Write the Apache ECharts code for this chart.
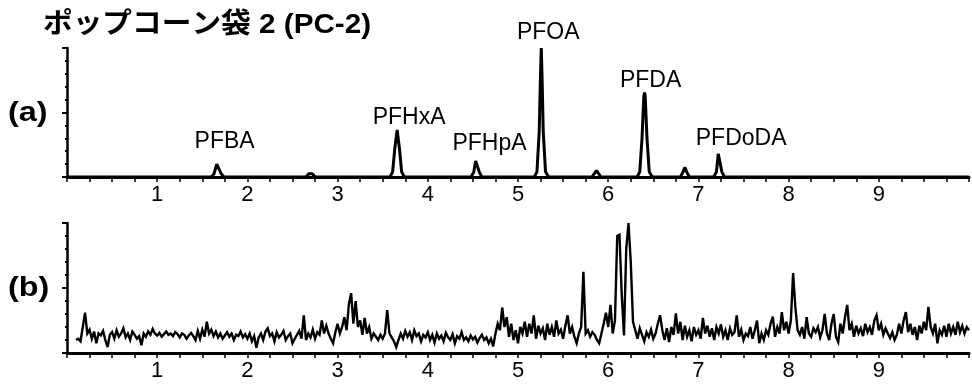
<!DOCTYPE html>
<html>
<head>
<meta charset="utf-8">
<script src="https://cdn.jsdelivr.net/npm/echarts@6/dist/echarts.min.js"></script>
<style>
html,body{margin:0;padding:0;background:#fff;}
#chart{width:972px;height:390px;}
</style>
</head>
<body>
<div id="chart"></div>
<script>
// ---- Text ----
const titleText = 'ポップコーン袋 2 (PC-2)';
const panelLabels = ['(a)', '(b)'];
const xTickValues = [1, 2, 3, 4, 5, 6, 7, 8, 9];

// ---- Panel (a): standard chromatogram (time, intensity) ----
const aTimes = [0.00,
  1.60,1.63,1.66,1.67,1.68,1.71,1.74,
  2.65,2.68,2.70,2.72,2.75,
  3.58,3.61,3.635,3.66,3.685,3.71,3.74,
  4.48,4.51,4.53,4.54,4.55,4.57,4.60,
  5.18,5.21,5.235,5.25,5.258,5.266,5.28,5.305,5.34,
  5.82,5.85,5.87,5.89,5.92,
  6.32,6.35,6.375,6.395,6.403,6.41,6.43,6.455,6.49,
  6.80,6.83,6.85,6.87,6.90,
  7.17,7.20,7.22,7.23,7.24,7.26,7.29,
  10.00];
const aValues = [0,
  0,0.05,0.20,0.23,0.20,0.05,0,
  0,0.05,0.06,0.05,0,
  0,0.08,0.45,0.73,0.45,0.08,0,
  0,0.08,0.25,0.28,0.25,0.08,0,
  0,0.08,0.70,1.60,2.00,1.60,0.70,0.08,0,
  0,0.06,0.10,0.06,0,
  0,0.08,0.60,1.25,1.31,1.25,0.60,0.08,0,
  0,0.08,0.15,0.08,0,
  0,0.08,0.36,0.39,0.36,0.08,0,
  0];

// ---- Peak names with apex (time, intensity) ----
const peakNames = ['PFBA','PFHxA','PFHpA','PFOA','PFDA','PFDoDA'];
const peakTimes = [1.67, 3.66, 4.54, 5.258, 6.403, 7.23];
const peakHeights = [0.23, 0.73, 0.28, 2.00, 1.31, 0.39];

// ---- Panel (b): sample trace, segments sampled every 0.025 min ----
const bStep = 0.025;
const bSegStarts = [0.1, 1, 2, 3, 4, 5, 6, 7, 8, 9];
const bSeg0 = [0.20,0.22,0.18,0.40,0.62,0.30,0.36,0.22,0.33,0.15,
  0.30,0.27,0.34,0.20,0.09,0.28,0.32,0.22,0.35,0.25,
  0.30,0.38,0.24,0.30,0.20,0.33,0.28,0.22,0.26,0.12,
  0.30,0.25,0.33,0.28,0.37,0.30];
const bSeg1 = [0.27,0.31,0.25,0.29,0.33,0.28,0.30,0.26,0.32,0.29,
  0.24,0.30,0.28,0.22,0.27,0.31,0.26,0.20,0.34,0.22,
  0.36,0.25,0.48,0.30,0.36,0.26,0.33,0.24,0.30,0.22,
  0.27,0.32,0.25,0.30,0.20,0.28,0.26,0.33,0.24,0.29];
const bSeg2 = [0.22,0.30,0.18,0.26,0.08,0.24,0.30,0.20,0.33,0.38,
  0.26,0.30,0.18,0.32,0.24,0.28,0.34,0.20,0.26,0.30,
  0.15,0.22,0.28,0.34,0.22,0.58,0.20,0.30,0.24,0.36,
  0.22,0.32,0.28,0.50,0.30,0.42,0.30,0.22,0.15,0.32];
const bSeg3 = [0.45,0.30,0.40,0.55,0.35,0.75,0.92,0.45,0.80,0.40,
  0.50,0.28,0.54,0.30,0.40,0.22,0.30,0.25,0.20,0.28,
  0.22,0.30,0.66,0.30,0.24,0.18,0.09,0.20,0.30,0.22,
  0.34,0.25,0.32,0.20,0.35,0.26,0.30,0.18,0.28,0.24];
const bSeg4 = [0.32,0.20,0.28,0.16,0.30,0.22,0.27,0.18,0.31,0.24,
  0.20,0.29,0.15,0.26,0.22,0.32,0.20,0.24,0.18,0.27,
  0.21,0.25,0.16,0.23,0.28,0.20,0.24,0.15,0.22,0.10,
  0.30,0.45,0.35,0.70,0.40,0.55,0.25,0.45,0.20,0.35];
const bSeg5 = [0.15,0.40,0.30,0.48,0.25,0.45,0.30,0.58,0.22,0.42,
  0.30,0.38,0.20,0.45,0.28,0.40,0.25,0.50,0.30,0.36,
  0.22,0.42,0.58,0.30,0.40,0.25,0.15,0.30,0.40,1.25,
  0.30,0.35,0.25,0.32,0.28,0.20,0.15,0.30,0.45,0.62];
const bSeg6 = [0.40,0.74,0.30,0.50,1.80,1.82,0.90,0.27,1.60,2.00,
  1.40,0.48,0.35,0.22,0.38,0.28,0.18,0.32,0.25,0.36,
  0.22,0.30,0.45,0.58,0.35,0.20,0.38,0.17,0.40,0.28,
  0.61,0.30,0.48,0.20,0.42,0.25,0.35,0.18,0.40,0.28];
const bSeg7 = [0.35,0.22,0.54,0.30,0.42,0.25,0.38,0.20,0.40,0.30,
  0.44,0.25,0.35,0.20,0.38,0.28,0.32,0.58,0.25,0.36,
  0.20,0.30,0.26,0.40,0.22,0.35,0.50,0.15,0.30,0.20,
  0.35,0.28,0.45,0.56,0.25,0.40,0.30,0.63,0.35,0.48];
const bSeg8 = [0.30,0.50,1.23,0.70,0.35,0.28,0.40,0.22,0.55,0.30,
  0.25,0.38,0.32,0.40,0.24,0.35,0.60,0.30,0.20,0.45,
  0.60,0.25,0.17,0.45,0.30,0.55,0.74,0.35,0.45,0.25,
  0.42,0.30,0.38,0.26,0.45,0.32,0.40,0.28,0.50,0.58];
const bSeg9 = [0.35,0.45,0.28,0.38,0.30,0.23,0.32,0.20,0.28,0.45,
  0.30,0.50,0.63,0.32,0.45,0.28,0.40,0.20,0.42,0.30,
  0.48,0.35,0.71,0.40,0.30,0.45,0.15,0.35,0.28,0.42,
  0.25,0.45,0.30,0.40,0.28,0.48,0.32,0.42,0.30,0.40,
  0.35];

// ---- Build series data ----
const aData = aTimes.map((t, i) => [t, aValues[i]]);
const bSegs = [bSeg0,bSeg1,bSeg2,bSeg3,bSeg4,bSeg5,bSeg6,bSeg7,bSeg8,bSeg9];
const bData = [];
bSegs.forEach((seg, s) => {
  seg.forEach((v, i) => bData.push([+(bSegStarts[s] + i * bStep).toFixed(3), v]));
});

// ---- Styling ----
const labelOffsets = [[7,-21],[12,-12],[13,-15],[7,-15],[6,-12],[22,-13]];
const latin = '"Liberation Sans", Arial, sans-serif';
const titleFont = 'bold 28px "Liberation Sans", "Noto Sans CJK JP", sans-serif';

function xAxisCfg(gi) {
  return {
    type: 'value', gridIndex: gi, min: 0, max: 10, interval: 1,
    axisLine: { show: true, onZero: false, lineStyle: { color: '#000', width: 3 } },
    axisTick: { show: true, inside: false, length: 5, lineStyle: { color: '#000', width: 1.5 } },
    minorTick: { show: true, splitNumber: 4, length: 5, lineStyle: { color: '#000', width: 1.5 } },
    splitLine: { show: false }, minorSplitLine: { show: false },
    axisLabel: {
      show: true, margin: 7, color: '#000', fontSize: 22, fontFamily: latin,
      formatter: v => (xTickValues.indexOf(v) >= 0 ? String(v) : '')
    }
  };
}
function yAxisCfg(gi) {
  return {
    type: 'value', gridIndex: gi, min: 0, max: 2, interval: 1,
    axisLine: { show: true, onZero: false, lineStyle: { color: '#000', width: 2.5 } },
    axisTick: { show: true, inside: false, length: 5, lineStyle: { color: '#000', width: 2 } },
    minorTick: { show: true, splitNumber: 5, length: 2, lineStyle: { color: '#000', width: 2 } },
    splitLine: { show: false }, minorSplitLine: { show: false },
    axisLabel: { show: false }
  };
}

const chart = echarts.init(document.getElementById('chart'), null, { renderer: 'canvas' });
chart.setOption({
  animation: false,
  backgroundColor: '#fff',
  grid: [
    { left: 67, right: 0, top: 48, height: 129 },
    { left: 67, right: 0, top: 223, height: 130 }
  ],
  xAxis: [xAxisCfg(0), xAxisCfg(1)],
  yAxis: [yAxisCfg(0), yAxisCfg(1)],
  graphic: [
    { type: 'text', x: 43, y: 25, scaleX: 1.06,
      style: { text: titleText, font: titleFont, fill: '#000', textAlign: 'left', textVerticalAlign: 'middle' } },
    { type: 'text', x: 8, y: 114, scaleX: 1.2,
      style: { text: panelLabels[0], font: 'bold 27px ' + latin, fill: '#000', textAlign: 'left', textVerticalAlign: 'middle' } },
    { type: 'text', x: 8, y: 289, scaleX: 1.2,
      style: { text: panelLabels[1], font: 'bold 27px ' + latin, fill: '#000', textAlign: 'left', textVerticalAlign: 'middle' } }
  ],
  series: [
    {
      type: 'line', xAxisIndex: 0, yAxisIndex: 0, data: aData,
      showSymbol: false, clip: false,
      lineStyle: { color: '#000', width: 3 },
      markPoint: {
        symbol: 'circle', symbolSize: 0, silent: true,
        label: { show: true, position: 'inside', color: '#000', fontSize: 23, fontFamily: latin, formatter: '{b}' },
        data: peakNames.map((n, i) => ({
          name: n, coord: [peakTimes[i], peakHeights[i]],
          label: { offset: labelOffsets[i] }
        }))
      }
    },
    {
      type: 'line', xAxisIndex: 1, yAxisIndex: 1, data: bData,
      showSymbol: false, clip: false,
      lineStyle: { color: '#000', width: 2.4, join: 'miter', miterLimit: 4 }
    }
  ]
});
</script>
</body>
</html>
